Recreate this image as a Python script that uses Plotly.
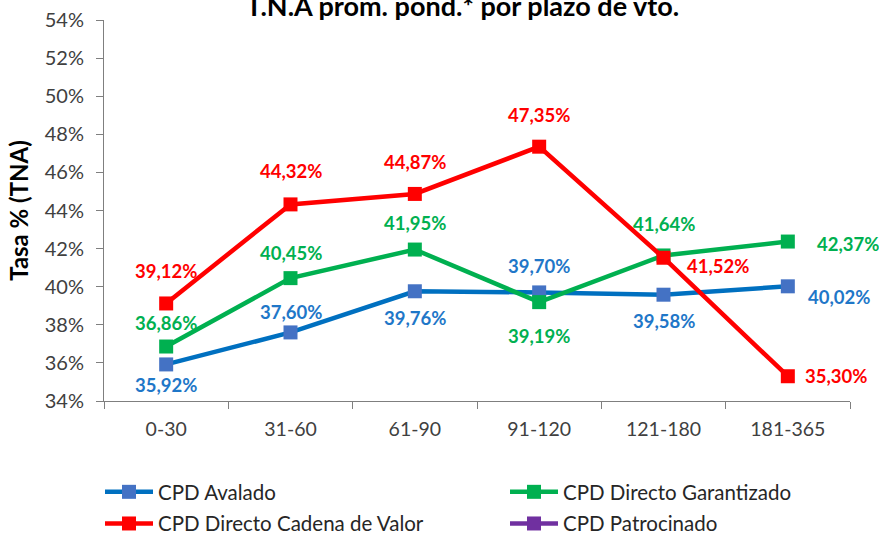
import plotly.graph_objects as go

categories = ["0-30", "31-60", "61-90", "91-120", "121-180", "181-365"]
avalado = [35.92, 37.60, 39.76, 39.70, 39.58, 40.02]
garantizado = [36.86, 40.45, 41.95, 39.19, 41.64, 42.37]
cadena_valor = [39.12, 44.32, 44.87, 47.35, 41.52, 35.30]
patrocinado = [None, None, None, None, None, None]

series_names = ["CPD Avalado", "CPD Directo Garantizado",
                "CPD Directo Cadena de Valor", "CPD Patrocinado"]
series_values = [avalado, garantizado, cadena_valor, patrocinado]

y_ticks = [34, 36, 38, 40, 42, 44, 46, 48, 50, 52, 54]

# styles
line_colors = ["#0070C0", "#00B050", "#FF0000", "#7030A0"]
marker_colors = ["#4472C4", "#00B050", "#FF0000", "#7030A0"]
label_colors = ["#1F77C8", "#00B050", "#FF0000", "#7030A0"]
legend_ids = ["legend", "legend2", "legend", "legend2"]
# label offsets in pixels (dx, dy) ; dy positive = down
label_offsets = [
    [(0, 21), (0, -20), (0, 27), (0, -26), (0, 26), (18, 11)],
    [(0, -24), (0, -25), (0, -27), (0, 34), (0, -31), (27, 2)],
    [(0, -32), (0, -33), (0, -32), (0, -32), (21, 8), (15, 0)],
    [None] * 6,
]

FONT = "Lato"
PL, PR, PT, PB = 104, 850, 20, 401
W, H = 879, 535
PW, PH = PR - PL, PB - PT

fig = go.Figure()
annotations = []
for i, (name, vals, lc, mc, tc, offs, lg) in enumerate(zip(
        series_names, series_values, line_colors, marker_colors,
        label_colors, label_offsets, legend_ids)):
    yv = [None if v is None else v / 100 for v in vals]
    fig.add_trace(go.Scatter(
        x=categories, y=yv, name=name, mode="lines+markers",
        line=dict(color=lc, width=4.5),
        marker=dict(symbol="square", size=14, color=mc, line=dict(width=0)),
        cliponaxis=False, legend=lg, legendgroup=f"g{i}",
    ))
    for c, v, off in zip(categories, vals, offs):
        if v is None or off is None:
            continue
        dx, dy = off
        annotations.append(dict(
            x=c, y=v / 100, xref="x", yref="y",
            text=f"{v:.2f}".replace(".", ",") + "%",
            showarrow=False,
            xanchor="left" if dx else "center", yanchor="middle",
            xshift=dx, yshift=-dy,
            font=dict(family=FONT, size=18.5, color=tc, weight="bold"),
        ))

annotations.append(dict(
    text="T.N.A prom. pond.* por plazo de vto.",
    xref="paper", yref="paper", x=(462 - PL) / PW, y=1 + (PT - 5) / PH,
    xanchor="center", yanchor="middle", showarrow=False,
    font=dict(family=FONT, size=27, color="#000000", weight="bold"),
))

legend_common = dict(
    orientation="v", yanchor="top", xanchor="left",
    font=dict(family=FONT, size=20.5, color="#262626"),
    itemwidth=48, tracegroupgap=2, bgcolor="rgba(0,0,0,0)",
)

fig.update_layout(
    width=W, height=H,
    margin=dict(l=PL, r=W - PR, t=PT, b=H - PB, autoexpand=False),
    paper_bgcolor="white", plot_bgcolor="white",
    font=dict(family=FONT, size=16, color="#404040"),
    annotations=annotations,
    showlegend=True,
    legend=dict(x=(100 - PL) / PW, y=-(472 - PB) / PH, **legend_common),
    legend2=dict(x=(505 - PL) / PW, y=-(472 - PB) / PH, **legend_common),
)
fig.update_xaxes(
    type="category", range=[-0.5, 5.5],
    showline=True, linecolor="#7F7F7F", linewidth=1,
    ticks="outside", tickson="boundaries", ticklen=7, tickcolor="#7F7F7F",
    showgrid=False, zeroline=False,
    tickfont=dict(family=FONT, size=19.5, color="#404040"),
    ticklabelstandoff=11,
)
fig.update_yaxes(
    range=[0.34, 0.54], tickvals=[t / 100 for t in y_ticks],
    ticktext=[f"{t}%" for t in y_ticks],
    showline=True, linecolor="#7F7F7F", linewidth=1,
    ticks="outside", ticklen=7, tickcolor="#7F7F7F",
    showgrid=False, zeroline=False,
    tickfont=dict(family=FONT, size=20, color="#404040"),
    ticklabelstandoff=8,
    title=dict(text="<b>Tasa % (TNA)</b>", standoff=9,
               font=dict(family=FONT, size=24, color="#000000")),
)

fig.write_html("out.html", config={"displayModeBar": False},
               post_script="document.body.style.margin='0px';"
                           "document.body.style.overflow='hidden';")
